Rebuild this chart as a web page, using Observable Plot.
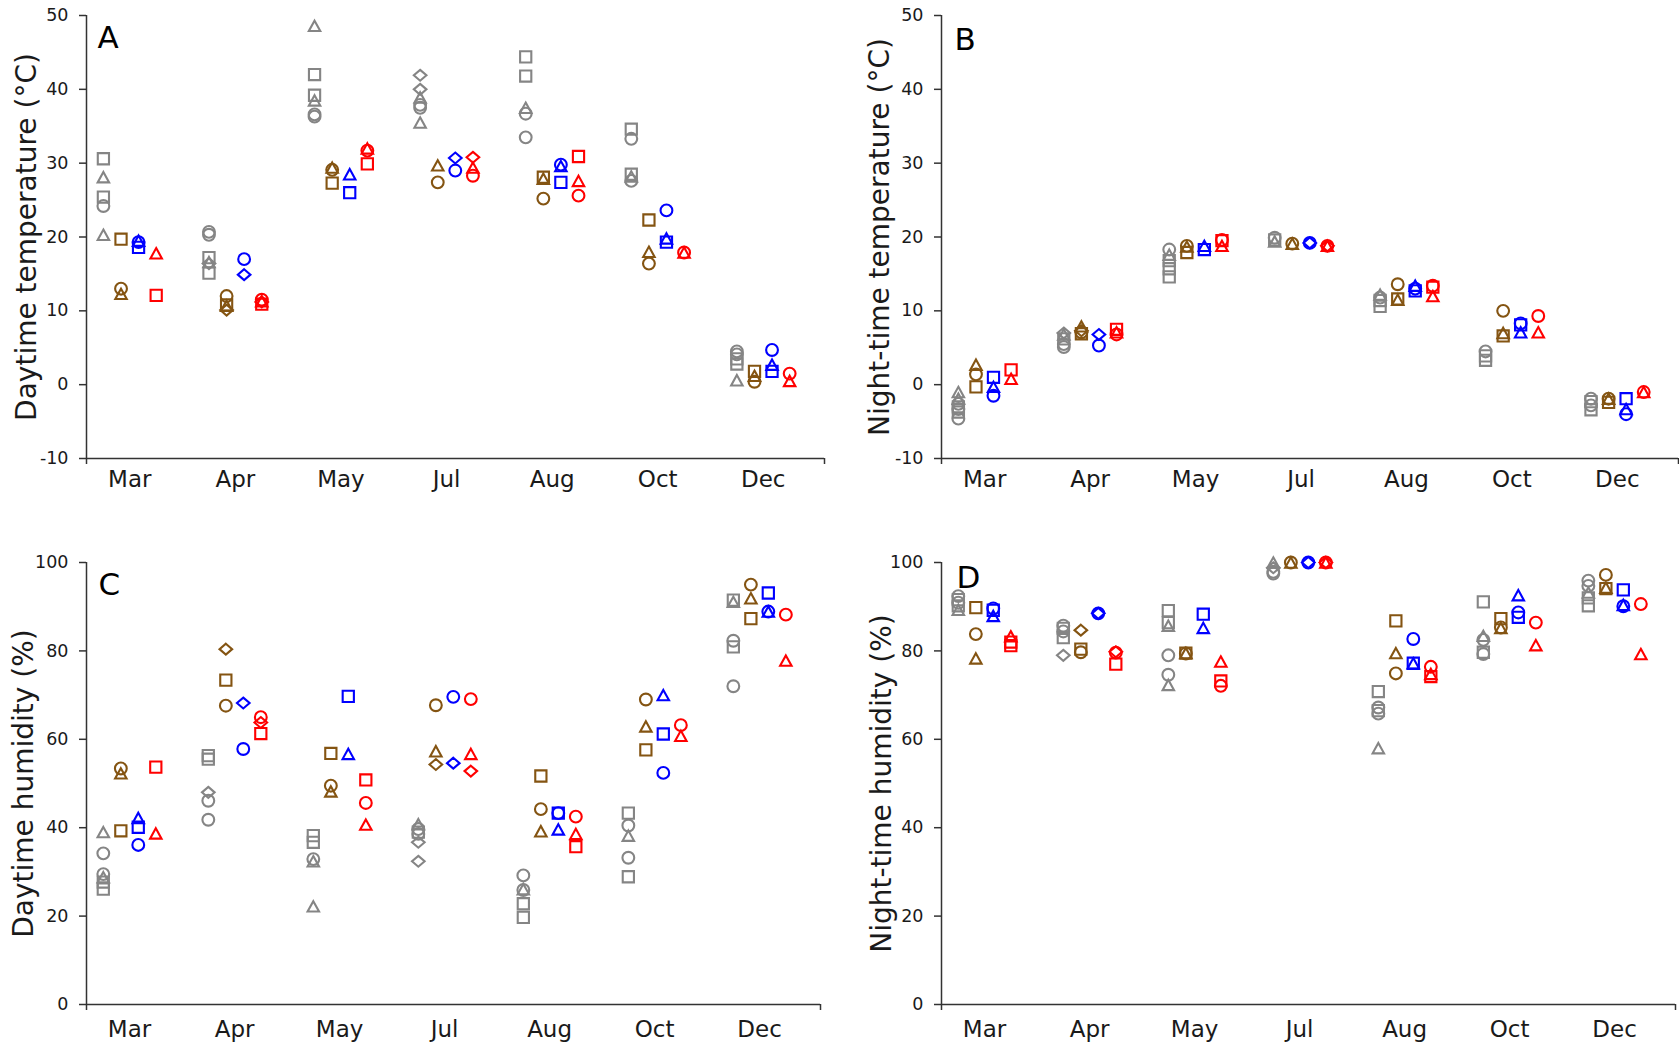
<!DOCTYPE html>
<html>
<head>
<meta charset="utf-8">
<script src="https://cdn.jsdelivr.net/npm/d3@7"></script>
<script src="https://cdn.jsdelivr.net/npm/@observablehq/plot@0.6"></script>
<style>
  body { margin: 0; background: #fff; }
  #chart { position: relative; width: 1679px; height: 1044px; background: #fff; font-family: "DejaVu Sans", Verdana, sans-serif; }
  .panel { position: absolute; }
</style>
</head>
<body>
<div id="chart"></div>
<script>
const months = ["Mar", "Apr", "May", "Jul", "Aug", "Oct", "Dec"];
// series s1..s4 are drawn gray, brown, blue, red
const series = ["s1", "s2", "s3", "s4"];
const seriesColors = ["#858585", "#845412", "#0000ff", "#ff0000"];
const seriesOffsets = [-0.25, -0.083, 0.083, 0.25];
const markers = ["sq", "ci", "tri", "dia"];
const tempTicks = [-10, 0, 10, 20, 30, 40, 50];
const humTicks = [0, 20, 40, 60, 80, 100];

// [month, series, marker, value]
const dayTemp = [
  ["Mar","s1","sq",30.6],["Mar","s1","tri",28.1],["Mar","s1","sq",25.4],["Mar","s1","ci",24.2],["Mar","s1","tri",20.3],
  ["Mar","s2","sq",19.7],["Mar","s2","ci",13.0],["Mar","s2","tri",12.3],
  ["Mar","s3","ci",19.3],["Mar","s3","tri",19.5],["Mar","s3","sq",18.6],
  ["Mar","s4","tri",17.8],["Mar","s4","sq",12.1],
  ["Apr","s1","ci",20.7],["Apr","s1","ci",20.3],["Apr","s1","sq",17.2],["Apr","s1","tri",16.6],["Apr","s1","dia",16.4],["Apr","s1","sq",15.1],
  ["Apr","s2","ci",12.0],["Apr","s2","sq",10.8],["Apr","s2","tri",10.7],["Apr","s2","dia",10.1],
  ["Apr","s3","ci",17.0],["Apr","s3","dia",14.9],
  ["Apr","s4","ci",11.5],["Apr","s4","tri",11.3],["Apr","s4","dia",11.2],["Apr","s4","sq",10.9],
  ["May","s1","tri",48.6],["May","s1","sq",42.0],["May","s1","sq",39.2],["May","s1","tri",38.5],["May","s1","ci",36.6],["May","s1","ci",36.3],
  ["May","s2","tri",29.4],["May","s2","ci",29.1],["May","s2","sq",27.3],
  ["May","s3","tri",28.5],["May","s3","sq",26.0],
  ["May","s4","tri",32.0],["May","s4","ci",31.7],["May","s4","sq",29.9],
  ["Jul","s1","dia",41.9],["Jul","s1","dia",40.0],["Jul","s1","tri",38.9],["Jul","s1","ci",37.9],["Jul","s1","ci",37.5],["Jul","s1","tri",35.5],
  ["Jul","s2","tri",29.7],["Jul","s2","ci",27.4],
  ["Jul","s3","dia",30.7],["Jul","s3","ci",29.0],
  ["Jul","s4","dia",30.8],["Jul","s4","tri",29.4],["Jul","s4","ci",28.3],
  ["Aug","s1","sq",44.4],["Aug","s1","sq",41.8],["Aug","s1","tri",37.5],["Aug","s1","ci",36.7],["Aug","s1","ci",33.5],
  ["Aug","s2","sq",28.1],["Aug","s2","tri",27.9],["Aug","s2","ci",25.2],
  ["Aug","s3","ci",29.8],["Aug","s3","tri",29.6],["Aug","s3","sq",27.4],
  ["Aug","s4","sq",30.9],["Aug","s4","tri",27.6],["Aug","s4","ci",25.6],
  ["Oct","s1","sq",34.6],["Oct","s1","ci",33.3],["Oct","s1","sq",28.5],["Oct","s1","tri",28.2],["Oct","s1","ci",27.6],
  ["Oct","s2","sq",22.3],["Oct","s2","tri",18.0],["Oct","s2","ci",16.4],
  ["Oct","s3","ci",23.6],["Oct","s3","tri",19.8],["Oct","s3","sq",19.3],
  ["Oct","s4","ci",17.9],["Oct","s4","tri",17.9],
  ["Dec","s1","ci",4.5],["Dec","s1","ci",4.1],["Dec","s1","sq",3.5],["Dec","s1","sq",2.8],["Dec","s1","tri",0.6],
  ["Dec","s2","sq",1.8],["Dec","s2","tri",1.2],["Dec","s2","ci",0.4],
  ["Dec","s3","ci",4.7],["Dec","s3","tri",2.7],["Dec","s3","sq",1.8],
  ["Dec","s4","ci",1.5],["Dec","s4","tri",0.5]
];

const nightTemp = [
  ["Mar","s1","tri",-1.0],["Mar","s1","tri",-1.9],["Mar","s1","ci",-2.6],["Mar","s1","sq",-3.0],["Mar","s1","ci",-3.3],["Mar","s1","sq",-3.7],["Mar","s1","ci",-4.6],
  ["Mar","s2","tri",2.7],["Mar","s2","ci",1.4],["Mar","s2","sq",-0.3],
  ["Mar","s3","sq",1.0],["Mar","s3","tri",-0.3],["Mar","s3","ci",-1.5],
  ["Mar","s4","sq",2.0],["Mar","s4","tri",0.8],
  ["Apr","s1","dia",7.0],["Apr","s1","tri",6.8],["Apr","s1","sq",6.2],["Apr","s1","ci",5.5],["Apr","s1","ci",5.1],
  ["Apr","s2","tri",7.9],["Apr","s2","dia",7.3],["Apr","s2","ci",7.1],["Apr","s2","sq",6.9],
  ["Apr","s3","dia",6.8],["Apr","s3","ci",5.3],
  ["Apr","s4","sq",7.5],["Apr","s4","tri",7.1],["Apr","s4","ci",6.8],
  ["May","s1","ci",18.3],["May","s1","tri",17.6],["May","s1","sq",16.8],["May","s1","sq",15.7],["May","s1","sq",14.6],
  ["May","s2","ci",18.8],["May","s2","tri",18.7],["May","s2","sq",17.9],
  ["May","s3","tri",18.8],["May","s3","sq",18.3],
  ["May","s4","ci",19.6],["May","s4","sq",19.5],["May","s4","tri",18.8],
  ["Jul","s1","ci",19.9],["Jul","s1","sq",19.6],["Jul","s1","tri",19.4],
  ["Jul","s2","ci",19.1],["Jul","s2","tri",19.1],
  ["Jul","s3","dia",19.2],["Jul","s3","ci",19.2],
  ["Jul","s4","ci",18.8],["Jul","s4","tri",18.8],["Jul","s4","dia",18.8],
  ["Aug","s1","tri",12.2],["Aug","s1","ci",11.8],["Aug","s1","sq",11.4],["Aug","s1","sq",10.6],
  ["Aug","s2","ci",13.6],["Aug","s2","sq",11.6],["Aug","s2","tri",11.5],
  ["Aug","s3","tri",13.4],["Aug","s3","ci",13.0],["Aug","s3","sq",12.7],
  ["Aug","s4","ci",13.4],["Aug","s4","sq",13.2],["Aug","s4","tri",12.0],
  ["Oct","s1","ci",4.5],["Oct","s1","sq",3.9],["Oct","s1","sq",3.3],
  ["Oct","s2","ci",10.0],["Oct","s2","tri",7.0],["Oct","s2","sq",6.6],
  ["Oct","s3","ci",8.3],["Oct","s3","sq",8.1],["Oct","s3","tri",7.1],
  ["Oct","s4","ci",9.3],["Oct","s4","tri",7.1],
  ["Dec","s1","ci",-1.9],["Dec","s1","sq",-2.3],["Dec","s1","ci",-2.8],["Dec","s1","sq",-3.4],
  ["Dec","s2","ci",-1.9],["Dec","s2","tri",-1.9],["Dec","s2","sq",-2.4],
  ["Dec","s3","sq",-1.9],["Dec","s3","tri",-3.3],["Dec","s3","ci",-4.0],
  ["Dec","s4","ci",-1.0],["Dec","s4","tri",-1.0]
];

const dayHum = [
  ["Mar","s1","tri",39.0],["Mar","s1","ci",34.2],["Mar","s1","ci",29.5],["Mar","s1","tri",28.8],["Mar","s1","sq",27.7],["Mar","s1","sq",26.1],
  ["Mar","s2","ci",53.4],["Mar","s2","tri",52.3],["Mar","s2","sq",39.3],
  ["Mar","s3","tri",42.2],["Mar","s3","sq",40.1],["Mar","s3","ci",36.1],
  ["Mar","s4","sq",53.7],["Mar","s4","tri",38.7],
  ["Apr","s1","sq",56.3],["Apr","s1","sq",55.5],["Apr","s1","dia",48.0],["Apr","s1","ci",46.1],["Apr","s1","ci",41.8],
  ["Apr","s2","dia",80.4],["Apr","s2","sq",73.4],["Apr","s2","ci",67.6],
  ["Apr","s3","dia",68.2],["Apr","s3","ci",57.8],
  ["Apr","s4","ci",65.0],["Apr","s4","dia",63.8],["Apr","s4","sq",61.3],
  ["May","s1","sq",38.2],["May","s1","sq",36.7],["May","s1","ci",32.9],["May","s1","tri",32.4],["May","s1","tri",22.2],
  ["May","s2","sq",56.8],["May","s2","ci",49.5],["May","s2","tri",48.2],
  ["May","s3","sq",69.7],["May","s3","tri",56.7],
  ["May","s4","sq",50.8],["May","s4","ci",45.6],["May","s4","tri",40.7],
  ["Jul","s1","tri",40.8],["Jul","s1","ci",39.7],["Jul","s1","sq",39.0],["Jul","s1","ci",38.6],["Jul","s1","dia",36.7],["Jul","s1","dia",32.4],
  ["Jul","s2","ci",67.7],["Jul","s2","tri",57.3],["Jul","s2","dia",54.3],
  ["Jul","s3","ci",69.6],["Jul","s3","dia",54.6],
  ["Jul","s4","ci",69.1],["Jul","s4","tri",56.7],["Jul","s4","dia",52.8],
  ["Aug","s1","ci",29.2],["Aug","s1","tri",26.1],["Aug","s1","ci",25.9],["Aug","s1","sq",22.8],["Aug","s1","sq",19.7],
  ["Aug","s2","sq",51.7],["Aug","s2","ci",44.2],["Aug","s2","tri",39.2],
  ["Aug","s3","sq",43.3],["Aug","s3","ci",43.3],["Aug","s3","tri",39.6],
  ["Aug","s4","ci",42.5],["Aug","s4","tri",38.6],["Aug","s4","sq",35.7],
  ["Oct","s1","sq",43.3],["Oct","s1","ci",40.5],["Oct","s1","tri",38.2],["Oct","s1","ci",33.2],["Oct","s1","sq",28.9],
  ["Oct","s2","ci",69.0],["Oct","s2","tri",62.9],["Oct","s2","sq",57.6],
  ["Oct","s3","tri",70.0],["Oct","s3","sq",61.2],["Oct","s3","ci",52.4],
  ["Oct","s4","ci",63.2],["Oct","s4","tri",60.8],
  ["Dec","s1","sq",91.5],["Dec","s1","tri",91.1],["Dec","s1","ci",82.3],["Dec","s1","sq",80.9],["Dec","s1","ci",72.0],
  ["Dec","s2","ci",95.0],["Dec","s2","tri",91.9],["Dec","s2","sq",87.3],
  ["Dec","s3","sq",93.1],["Dec","s3","ci",88.9],["Dec","s3","tri",88.9],
  ["Dec","s4","ci",88.2],["Dec","s4","tri",77.8]
];

const nightHum = [
  ["Mar","s1","ci",92.4],["Mar","s1","sq",91.6],["Mar","s1","ci",90.9],["Mar","s1","sq",90.2],["Mar","s1","tri",89.3],
  ["Mar","s2","sq",89.8],["Mar","s2","ci",83.8],["Mar","s2","tri",78.3],
  ["Mar","s3","ci",89.6],["Mar","s3","sq",89.2],["Mar","s3","tri",87.9],
  ["Mar","s4","tri",83.3],["Mar","s4","sq",82.0],["Mar","s4","sq",81.2],
  ["Apr","s1","ci",85.7],["Apr","s1","sq",85.1],["Apr","s1","ci",84.4],["Apr","s1","sq",83.0],["Apr","s1","dia",79.0],
  ["Apr","s2","dia",84.7],["Apr","s2","sq",80.4],["Apr","s2","ci",79.7],
  ["Apr","s3","dia",88.5],["Apr","s3","ci",88.5],
  ["Apr","s4","dia",79.8],["Apr","s4","ci",79.6],["Apr","s4","sq",77.0],
  ["May","s1","sq",89.1],["May","s1","sq",86.4],["May","s1","tri",85.7],["May","s1","ci",79.0],["May","s1","ci",74.6],["May","s1","tri",72.3],
  ["May","s2","sq",79.5],["May","s2","tri",79.5],["May","s2","ci",79.4],
  ["May","s3","sq",88.3],["May","s3","tri",85.2],
  ["May","s4","tri",77.6],["May","s4","sq",73.2],["May","s4","ci",72.1],
  ["Jul","s1","tri",100],["Jul","s1","dia",98.8],["Jul","s1","ci",97.9],["Jul","s1","ci",97.5],
  ["Jul","s2","ci",100],["Jul","s2","tri",100],
  ["Jul","s3","dia",100],["Jul","s3","ci",100],
  ["Jul","s4","ci",100],["Jul","s4","tri",100],["Jul","s4","dia",100],
  ["Aug","s1","sq",70.8],["Aug","s1","ci",67.2],["Aug","s1","sq",66.5],["Aug","s1","ci",65.8],["Aug","s1","tri",58.0],
  ["Aug","s2","sq",86.8],["Aug","s2","tri",79.5],["Aug","s2","ci",74.9],
  ["Aug","s3","ci",82.7],["Aug","s3","sq",77.2],["Aug","s3","tri",77.2],
  ["Aug","s4","ci",76.4],["Aug","s4","tri",74.8],["Aug","s4","sq",74.2],
  ["Oct","s1","sq",91.1],["Oct","s1","tri",83.4],["Oct","s1","ci",82.5],["Oct","s1","sq",79.7],["Oct","s1","ci",79.3],
  ["Oct","s2","sq",87.3],["Oct","s2","ci",85.3],["Oct","s2","tri",85.2],
  ["Oct","s3","tri",92.6],["Oct","s3","ci",88.7],["Oct","s3","sq",87.6],
  ["Oct","s4","ci",86.4],["Oct","s4","tri",81.3],
  ["Dec","s1","ci",95.9],["Dec","s1","ci",94.7],["Dec","s1","tri",93.2],["Dec","s1","sq",92.0],["Dec","s1","sq",90.2],
  ["Dec","s2","ci",97.2],["Dec","s2","tri",94.3],["Dec","s2","sq",94.1],
  ["Dec","s3","sq",93.8],["Dec","s3","tri",90.4],["Dec","s3","ci",90.1],
  ["Dec","s4","ci",90.6],["Dec","s4","tri",79.3]
];

// marker glyphs (outline shapes), drawn from the symbol size given by Plot
const glyphs = [
  {draw(c, size) { const r = Math.sqrt(size / Math.PI), h = 0.95 * r; c.moveTo(-h, -h); c.lineTo(h, -h); c.lineTo(h, h); c.lineTo(-h, h); c.closePath(); }},
  {draw(c, size) { const r = Math.sqrt(size / Math.PI); c.moveTo(r, 0); c.arc(0, 0, r, 0, 2 * Math.PI); }},
  {draw(c, size) { const r = Math.sqrt(size / Math.PI), w = 0.97 * r, h = 0.88 * r; c.moveTo(0, -h); c.lineTo(w, h); c.lineTo(-w, h); c.closePath(); }},
  {draw(c, size) { const r = Math.sqrt(size / Math.PI), w = 1.07 * r, h = 0.92 * r; c.moveTo(0, -h); c.lineTo(w, 0); c.lineTo(0, h); c.lineTo(-w, 0); c.closePath(); }}
];

const xDomain = [-0.41, 6.58];
const axisColor = "#333333";
const textColor = "#1a1a1a";
const font = "DejaVu Sans, Verdana, sans-serif";
const fmtTick = d => (d < 0 ? "-" + Math.abs(d) : String(d));

function panel(data, o) {
  const rows = data.map(([m, s, k, v]) => ({
    m, s, k, v,
    x: months.indexOf(m) + seriesOffsets[series.indexOf(s)]
  }));
  return Plot.plot({
    width: o.width, height: o.height,
    marginLeft: o.ml, marginRight: o.mr, marginTop: o.mt, marginBottom: o.mb,
    style: {fontFamily: font, color: textColor, background: "white", overflow: "visible"},
    x: {domain: xDomain, axis: null},
    y: {domain: o.yDomain, axis: null},
    color: {type: "ordinal", domain: series, range: seriesColors},
    symbol: {domain: markers, range: glyphs},
    marks: [
      Plot.axisY({ticks: o.yTicks, tickFormat: fmtTick, tickSize: 7, tickPadding: 11, fontSize: 17.5, label: null, stroke: axisColor, strokeWidth: 1.5}),
      Plot.axisX({ticks: d3.range(months.length), tickFormat: i => months[i], tickSize: 0, tickPadding: o.monthPad, fontSize: 23, label: null}),
      Plot.axisX({ticks: xDomain, tickSize: 6, tickFormat: () => "", label: null, stroke: axisColor, strokeWidth: 1.5}),
      Plot.ruleX([xDomain[0]], {stroke: axisColor, strokeWidth: 1.5}),
      Plot.ruleY([o.yDomain[0]], {stroke: axisColor, strokeWidth: 1.5}),
      Plot.dot(rows, {x: "x", y: "v", stroke: "s", symbol: "k", r: 5.9, strokeWidth: 2.1, fill: "none"}),
      Plot.text([o.yLabel], {frameAnchor: "left", rotate: -90, dx: o.labelDx, fontSize: 28, textAnchor: "middle", lineAnchor: "middle", fill: textColor}),
      Plot.text([o.letter], {frameAnchor: "top-left", dx: o.letterDx, dy: o.letterDy, fontSize: 31, textAnchor: "start", lineAnchor: "top", fill: "#000"})
    ]
  });
}

const chart = document.getElementById("chart");
function place(svg, left, top) {
  const d = document.createElement("div");
  d.className = "panel";
  d.style.left = left + "px";
  d.style.top = top + "px";
  d.appendChild(svg);
  chart.appendChild(d);
}

place(panel(dayTemp, {width: 845, height: 500, ml: 86, mr: 21, mt: 15, mb: 42, yDomain: [-10, 50], yTicks: tempTicks,
  yLabel: "Daytime temperature (°C)", letter: "A", labelDx: -59, letterDx: 11, letterDy: 10, monthPad: 12}), 0, 0);
place(panel(nightTemp, {width: 824, height: 500, ml: 86, mr: 1, mt: 15, mb: 42, yDomain: [-10, 50], yTicks: tempTicks,
  yLabel: "Night-time temperature (°C)", letter: "B", labelDx: -61, letterDx: 13, letterDy: 12, monthPad: 12}), 855, 0);
place(panel(dayHum, {width: 845, height: 504, ml: 86, mr: 25, mt: 22, mb: 40, yDomain: [0, 100], yTicks: humTicks,
  yLabel: "Daytime humidity (%)", letter: "C", labelDx: -62, letterDx: 12, letterDy: 10, monthPad: 16}), 0, 540);
place(panel(nightHum, {width: 824, height: 504, ml: 86, mr: 4, mt: 22, mb: 40, yDomain: [0, 100], yTicks: humTicks,
  yLabel: "Night-time humidity (%)", letter: "D", labelDx: -59, letterDx: 15, letterDy: 3, monthPad: 16}), 855, 540);
</script>
</body>
</html>
